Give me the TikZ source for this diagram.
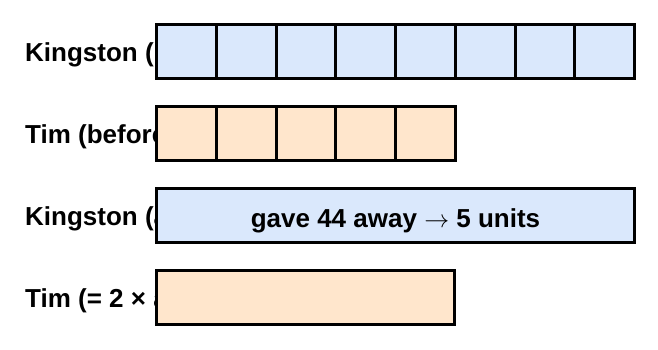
\documentclass[tikz,border=0pt]{standalone}
\usepackage{fontspec}
\setmainfont{Liberation Sans}
\usetikzlibrary{positioning}

\definecolor{kblue}{HTML}{DAE8FC}
\definecolor{torange}{HTML}{FFE6CC}

\begin{document}
\begin{tikzpicture}[x=1pt, y=1pt,
        rowlabel/.style={
            anchor=west, inner sep=0pt,
            text height=18.6pt, text depth=0pt,
            font=\bfseries\fontsize{26}{31}\selectfont
        },
        unitbox/.style={
            draw=black, line width=3pt, anchor=west,
            minimum width=59.75pt, minimum height=54pt, inner sep=0pt
        },
        barbox/.style={
            draw=black, line width=3pt, anchor=west,
            minimum height=54pt, inner sep=0pt,
            text height=23.6pt, text depth=0pt,
            font=\bfseries\fontsize{26}{31}\selectfont
        }
    ]
        \useasboundingbox (0,0) rectangle (658,350);

        % row labels
        \node[rowlabel] (kbefore) at (25,298) {Kingston (before)};
        \node[rowlabel] (tbefore) at (25,216) {Tim (before)};
        \node[rowlabel] (kafter) at (25,134) {Kingston (after)};
        \node[rowlabel] (tafter) at (25,52) {Tim (= 2 × after)};

        % unit boxes
        \foreach \i in {0,...,7}
            \node[unitbox, fill=kblue] (k\i) at ({155+59.75*\i},298) {};
        \foreach \i in {0,...,4}
            \node[unitbox, fill=torange] (t\i) at ({155+59.75*\i},216) {};

        % after bars
        \node[barbox, fill=kblue, minimum width=478pt] (kbar) at (155,134)
            {gave 44 away $\rightarrow$ 5 units};
        \node[barbox, fill=torange, minimum width=298pt] (tbar) at (155,52) {};
    \end{tikzpicture}
\end{document}
